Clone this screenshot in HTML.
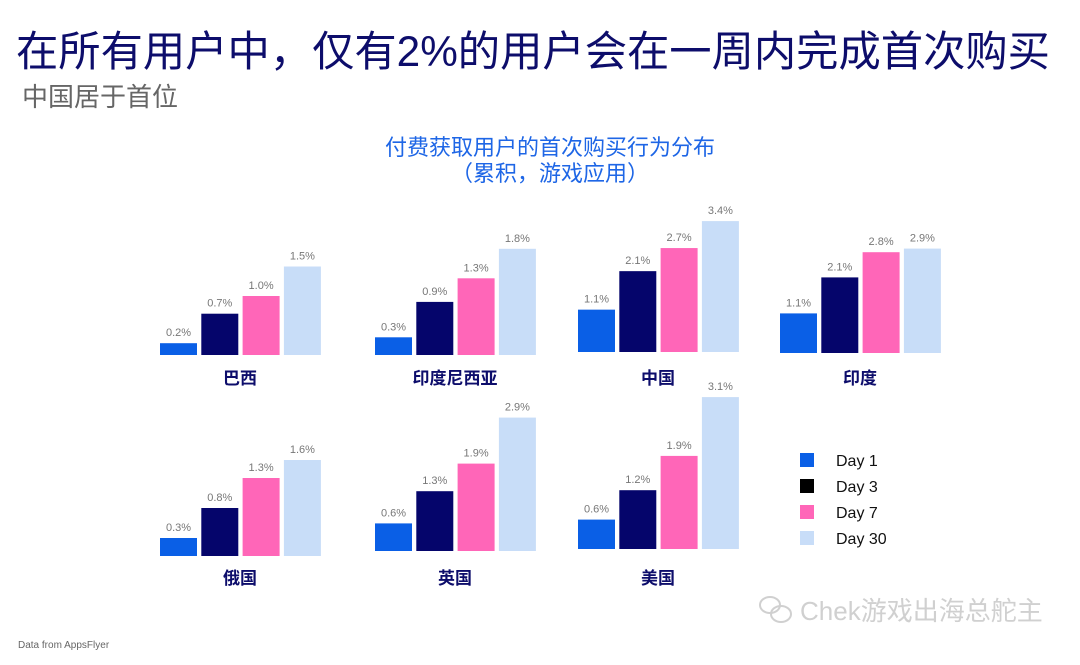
<!DOCTYPE html>
<html><head><meta charset="utf-8"><style>
body{margin:0;background:#fff;}
svg text{font-family:"Liberation Sans","Noto Sans CJK SC",sans-serif;}
</style></head><body>
<svg id="chart" width="1080" height="660" viewBox="0 0 1080 660" xmlns="http://www.w3.org/2000/svg">
<rect width="1080" height="660" fill="#fff"/>
<text x="16" y="66" font-size="42.3" fill="#0d0d6b">在所有用户中，仅有2%的用户会在一周内完成首次购买</text>
<text x="22" y="106" font-size="26" fill="#666">中国居于首位</text>
<text x="550" y="155" font-size="22" fill="#1e66e6" text-anchor="middle">付费获取用户的首次购买行为分布</text>
<text x="550" y="181" font-size="22" fill="#1e66e6" text-anchor="middle">（累积，游戏应用）</text>
<g id="panels"></g>
<g id="legend"></g>
<text x="18" y="648" font-size="10" fill="#666">Data from AppsFlyer</text>
<text x="800" y="620" font-size="26" fill="#d0d0d0">Chek游戏出海总舵主</text>
<g fill="none" stroke="#d0d0d0" stroke-width="2"><ellipse cx="770" cy="605" rx="10" ry="8"/><ellipse cx="781" cy="614" rx="10" ry="8"/></g>
</svg>
<script>
const countries=["巴西","印度尼西亚","中国","印度","俄国","英国","美国"];
const day1=[0.2,0.3,1.1,1.1,0.3,0.6,0.6];
const day3=[0.7,0.9,2.1,2.1,0.8,1.3,1.2];
const day7=[1.0,1.3,2.7,2.8,1.3,1.9,1.9];
const day30=[1.5,1.8,3.4,2.9,1.6,2.9,3.1];
const seriesNames=["Day 1","Day 3","Day 7","Day 30"];
const colors=["#0a5fe6","#05056b","#ff66b8","#c8ddf8"];
const legendColors=["#0a5fe6","#000000","#ff66b8","#c8ddf8"];
const panelX=[160,375,578,780,160,375,578];
const panelBase=[355,355,352,353,556,551,549];
const panelScale=[59,59,38.5,36,60,46,49];
const labelY=[384,384,384,384,584,584,584];
const NS="http://www.w3.org/2000/svg";
const g=document.getElementById('panels');
function el(t,a){const e=document.createElementNS(NS,t);for(const k in a)e.setAttribute(k,a[k]);return e;}
const series=[day1,day3,day7,day30];
countries.forEach((c,i)=>{
  const y=v=>panelBase[i]-v*panelScale[i];
  series.forEach((s,j)=>{
    const x=panelX[i]+j*41.3;
    const r=el('rect',{x:x,y:y(s[i]),width:37,height:panelBase[i]-y(s[i]),fill:colors[j]});
    
    
    g.appendChild(r);
    const t=el('text',{x:x+18.5,y:y(s[i])-7,'font-size':11,fill:'#777','text-anchor':'middle'});
    t.textContent=s[i].toFixed(1)+'%';
    
    
    g.appendChild(t);
  });
  const l=el('text',{x:panelX[i]+80,y:labelY[i],'font-size':17,'font-weight':'600',fill:'#0d0d6b','text-anchor':'middle'});
  l.textContent=c;
  
  
  g.appendChild(l);
});
const lg=document.getElementById('legend');
seriesNames.forEach((n,j)=>{
  const r=el('rect',{x:800,y:453+j*26,width:14,height:14,fill:legendColors[j]});
  
  
  lg.appendChild(r);
  const t=el('text',{x:836,y:466+j*26,'font-size':16,fill:'#111'});
  t.textContent=n;
  
  
  lg.appendChild(t);
});
</script>
</body></html>
